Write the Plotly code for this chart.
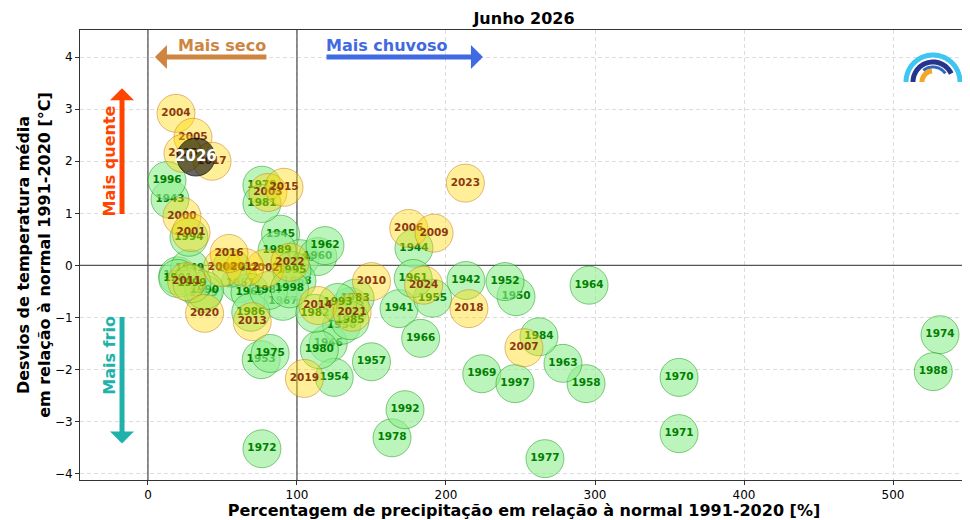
import numpy as np
import plotly.graph_objects as go

# ---- data ----
years = list(range(1941, 2027))
precip = [168.5, 213.4, 14.8, 178.5, 89.0, 121.0, 20.0, 102.0, 28.0, 247.0,
          62.0, 239.6, 76.0, 125.0, 191.0, 130.0, 150.0, 294.0, 37.0, 114.0,
          178.0, 118.8, 278.5, 296.0, 68.5, 183.0, 90.6, 100.0, 224.0, 356.4,
          356.4, 76.5, 135.6, 531.5, 82.0, 56.0, 266.4, 163.8, 76.5, 115.0,
          76.5, 112.0, 139.0, 262.4, 135.6, 69.0, 81.0, 527.0, 86.6, 38.0,
          20.0, 172.5, 127.5, 27.5, 96.6, 12.8, 246.3, 95.0, 29.5,
          22.8, 28.9, 78.5, 80.5, 18.8, 30.2, 175.0, 252.3, 50.0, 192.0,
          150.0, 26.0, 65.0, 70.0, 114.0, 91.3, 54.4, 43.0, 215.4, 105.0,
          38.0, 137.0, 95.3, 213.0, 185.0, 23.5, 32.2]
temp = [-0.83, -0.29, 1.27, 0.33, 0.60, -1.50, -0.20, 0.13, -0.06, -0.60,
        -0.35, -0.31, -1.81, -2.15, -0.63, -1.15, -1.85, -2.27, -0.54, 0.17,
        -0.25, 0.38, -1.88, -0.38, -0.52, -1.40, -0.69, -0.30, -2.08, -2.15,
        -3.23, -3.52, -0.79, -1.33, -1.69, -0.05, -3.71, -3.31, 1.54, -1.62,
        1.19, -0.92, -0.63, -1.37, -1.06, -0.90, -0.48, -2.04, 0.29, -0.48,
        -0.25, -2.77, -0.71, 0.54, -0.10, 1.63, -2.27, -0.45, -0.35,
        0.94, 0.63, -0.06, 1.40, 2.92, 2.46, 0.71, -1.58, -0.04, 0.62,
        -0.31, -0.31, -0.04, -1.08, -0.77, 1.50, 0.23, 2.00, -0.83, -2.17,
        -0.92, -0.90, 0.06, 1.58, -0.38, 2.15, 2.08]

x_ticks = [0, 100, 200, 300, 400, 500]
y_ticks = [-4, -3, -2, -1, 0, 1, 2, 3, 4]
title = "Junho 2026"
x_title = "Percentagem de precipitação em relação à normal 1991-2020 [%]"
y_title = "Desvios de temperatura média<br>em relação à normal 1991-2020 [°C]"

X_RANGE = [-45.6, 550.3]
Y_RANGE = [-4.12, 4.52]
FONT = "DejaVu Sans"
W, H = 962, 512
ML, MR, MT, MB = 72, 2, 22, 40
fig = go.Figure()

# reference lines (drawn first, under the circles)
ref_kw = dict(mode="lines", line=dict(color="#555555", width=1.3),
              showlegend=False, hoverinfo="skip")
for xv in (0, 100):
    fig.add_trace(go.Scatter(x=[xv, xv], y=Y_RANGE, **ref_kw))
fig.add_trace(go.Scatter(x=X_RANGE, y=[0, 0], **ref_kw))

for yr, px_, ty in zip(years, precip, temp):
    if yr == 2026:
        fill, edge, tcol, tsize = "rgba(0,0,0,0.6)", "rgba(0,0,0,0.6)", "white", 15
    elif yr >= 2000:
        fill, edge, tcol, tsize = "rgba(255,215,0,0.4)", "rgba(200,130,40,0.55)", "#8B3A0F", 10.5
    else:
        fill, edge, tcol, tsize = "rgba(144,238,144,0.6)", "rgba(0,140,0,0.45)", "#008000", 10.5
    fig.add_trace(go.Scatter(
        x=[px_], y=[ty], mode="markers+text",
        text=[f"<b>{yr}</b>"], textposition="middle center",
        textfont=dict(family=FONT, size=tsize, color=tcol),
        marker=dict(size=38, color=fill, line=dict(color=edge, width=1)),
        showlegend=False, hoverinfo="skip"))

# arrows and direction labels
def arrow(x, y, ax, ay, color):
    fig.add_annotation(x=x, y=y, ax=ax, ay=ay, xref="x", yref="y", axref="x", ayref="y",
                       text="", showarrow=True, arrowhead=1, arrowsize=0.8,
                       arrowwidth=5, arrowcolor=color)

arrow(4.7, 4.0, 80.5, 4.0, "#CD853F")
arrow(224.8, 4.0, 118.8, 4.0, "#4169E1")
arrow(-17.4, 3.4, -17.4, 0.96, "#FF4500")
arrow(-17.4, -3.42, -17.4, -0.96, "#20B2AA")

fig.add_annotation(x=49.7, y=4.23, xref="x", yref="y", text="<b>Mais seco</b>", showarrow=False,
                   font=dict(family=FONT, size=16, color="#CD853F"))
fig.add_annotation(x=160.4, y=4.23, xref="x", yref="y", text="<b>Mais chuvoso</b>", showarrow=False,
                   font=dict(family=FONT, size=16, color="#4169E1"))
fig.add_annotation(x=-26, y=2.0, xref="x", yref="y", text="<b>Mais quente</b>", showarrow=False,
                   textangle=-90, font=dict(family=FONT, size=16, color="#FF4500"))
fig.add_annotation(x=-26, y=-1.73, xref="x", yref="y", text="<b>Mais frio</b>", showarrow=False,
                   textangle=-90, font=dict(family=FONT, size=16, color="#20B2AA"))

# logo (decorative arcs, paper coordinates)
L, R, T, B = ML, W - MR, MT, H - MB
def arc(cx, cy, r, a0, a1, color, w):
    a = np.radians(np.linspace(a0, a1, 40))
    xs = (cx + r * np.cos(a) - L) / (R - L)
    ys = (B - (cy - r * np.sin(a))) / (B - T)
    path = "M " + " L ".join(f"{x:.5f},{y:.5f}" for x, y in zip(xs, ys))
    fig.add_shape(type="path", xref="paper", yref="paper", path=path,
                  line=dict(color=color, width=w))

LX, LY = 925, 74
arc(LX, LY, 27, 0, 180, "#3EC6F2", 5)
arc(LX, LY, 20, 25, 180, "#26358C", 5)
arc(LX, LY, 15, 35, 130, "#2F66BF", 3)
arc(LX, LY, 11, 95, 180, "#F5A623", 5)

axis_common = dict(showline=True, mirror=True, linecolor="#333333", linewidth=1,
                   ticks="outside", ticklen=4, tickcolor="#333333", automargin=False,
                   showgrid=True, gridcolor="#dcdcdc", griddash="4px,3px", gridwidth=1,
                   zeroline=False, tickfont=dict(family=FONT, size=12, color="black"))

fig.update_layout(
    width=W, height=H,
    margin=dict(l=ML, r=MR, t=MT, b=MB, autoexpand=False),
    plot_bgcolor="white", paper_bgcolor="white",
    title=dict(text=f"<b>{title}</b>", x=0.5, xref="paper", y=1 - 10 / H, yref="container",
               yanchor="middle", xanchor="center", font=dict(family=FONT, size=16, color="black")),
    xaxis=dict(range=X_RANGE, tickvals=x_ticks,
               title=dict(text=f"<b>{x_title}</b>", standoff=6,
                          font=dict(family=FONT, size=16, color="black")),
               **axis_common),
    yaxis=dict(range=Y_RANGE, tickvals=y_ticks,
               title=dict(text=f"<b>{y_title}</b>", standoff=0,
                          font=dict(family=FONT, size=16, color="black")),
               **axis_common),
)

fig.write_html("out.html")
